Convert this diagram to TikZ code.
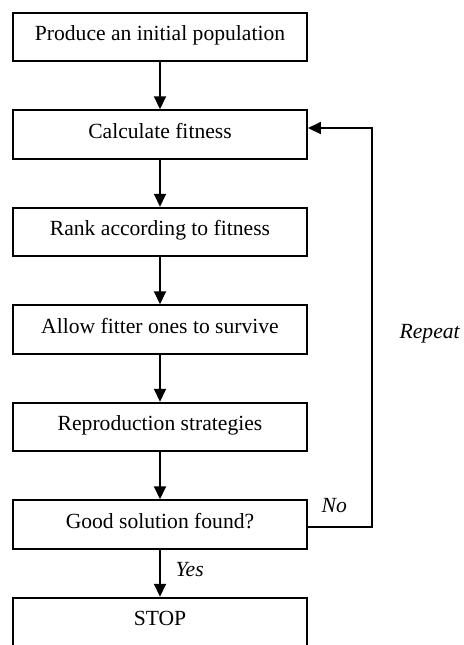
\documentclass[tikz,border=0pt]{standalone}
\usepackage{fontspec}
\setmainfont{Liberation Serif}
\usetikzlibrary{positioning, arrows.meta}

\begin{document}
\begin{tikzpicture}[x=0.5pt, y=-0.5pt,
        stepbox/.style={draw, line width=1pt, minimum width=147pt, minimum height=24.25pt,
            text height=8pt, text depth=4.5pt, font=\fontsize{10.8}{13}\selectfont},
        flow/.style={-{Triangle[width=6pt,length=6.5pt]}, line width=1pt},
        note/.style={font=\fontsize{10.8}{13}\selectfont\itshape},
        node distance=23.5pt]
        % Fix the frame of the picture
        \useasboundingbox (0,0) rectangle (463,645);

        % Draw the steps
        \node[stepbox] (init) at (160,37) {Produce an initial population};
        \node[stepbox, below=of init] (fitness) {Calculate fitness};
        \node[stepbox, below=of fitness] (rank) {Rank according to fitness};
        \node[stepbox, below=of rank] (survive) {Allow fitter ones to survive};
        \node[stepbox, below=of survive] (reproduce) {Reproduction strategies};
        \node[stepbox, below=of reproduce] (good) {Good solution found?};
        \node[stepbox, below=of good] (stop) {STOP};

        % Connect the steps
        \draw[flow] (init) -- (fitness);
        \draw[flow] (fitness) -- (rank);
        \draw[flow] (rank) -- (survive);
        \draw[flow] (survive) -- (reproduce);
        \draw[flow] (reproduce) -- (good);
        \draw[flow] (good) -- node[note, right, xshift=4pt, yshift=2pt] (yes) {Yes} (stop);

        % Loop back to the fitness step
        \coordinate (loop) at (372,128);
        \draw[flow] ([yshift=-1pt]good.east) node[note, above right, xshift=3pt, yshift=3pt] (no) {No}
            -- ([yshift=-1pt]good.east -| loop)
            -- node[note, right, xshift=10pt, yshift=-3pt] (repeat) {Repeat} (loop)
            -- (loop -| fitness.east);

    \end{tikzpicture}
\end{document}
